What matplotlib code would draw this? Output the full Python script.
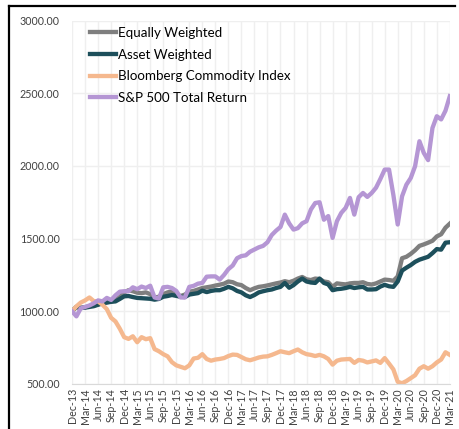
import numpy as np
import pandas as pd
import matplotlib
matplotlib.use("Agg")
import matplotlib.pyplot as plt
from matplotlib.lines import Line2D

plt.rcParams['font.family'] = ['Lato', 'DejaVu Sans']

# monthly index levels, Dec-13 .. Mar-21
dates = pd.date_range("2013-12-31", "2021-03-31", freq="ME")

equally_weighted = [
    1000, 1030, 1025, 1028, 1035, 1040, 1048, 1055, 1062, 1068,
    1075, 1100, 1130, 1145, 1138, 1128, 1125, 1130, 1118, 1095,
    1100, 1118, 1130, 1138, 1115, 1105, 1115, 1135, 1140, 1150,
    1160, 1165, 1170, 1177, 1183, 1190, 1205, 1200, 1186, 1180,
    1160, 1145, 1158, 1168, 1172, 1178, 1185, 1192, 1198, 1207,
    1200, 1210, 1225, 1236, 1220, 1215, 1225, 1222, 1205, 1200,
    1168, 1192, 1188, 1185, 1192, 1195, 1195, 1200, 1188, 1184,
    1192, 1205, 1218, 1215, 1210, 1240, 1365, 1375, 1395, 1420,
    1450, 1460, 1472, 1485, 1515, 1530, 1575, 1603,
]

asset_weighted = [
    1000, 1030, 1022, 1025, 1030, 1035, 1045, 1055, 1060, 1065,
    1068, 1085, 1103, 1105, 1098, 1092, 1090, 1088, 1086, 1080,
    1085, 1100, 1105, 1112, 1106, 1100, 1098, 1115, 1120, 1125,
    1142, 1132, 1140, 1145, 1145, 1155, 1168, 1158, 1140, 1130,
    1110, 1098, 1112, 1130, 1138, 1145, 1150, 1160, 1168, 1195,
    1162, 1180, 1205, 1225, 1205, 1198, 1195, 1225, 1195, 1185,
    1145, 1152, 1155, 1160, 1168, 1160, 1165, 1168, 1150, 1150,
    1152, 1170, 1182, 1172, 1168, 1205, 1280, 1300, 1318, 1340,
    1355, 1365, 1375, 1400, 1428, 1424, 1472, 1475,
]

bloomberg_commodity = [
    1000, 1034, 1060, 1075, 1095, 1070, 1068, 1045, 1015, 955,
    930, 880, 822, 810, 828, 787, 822, 808, 815, 740,
    725, 705, 690, 650, 628, 618, 608, 628, 675, 680,
    705, 672, 660, 668, 672, 678, 692, 702, 700, 685,
    670, 663, 672, 682, 688, 690, 700, 712, 725, 718,
    712, 725, 737, 718, 705, 700, 692, 700, 690, 672,
    633, 660, 668, 670, 672, 645, 665, 660, 648, 655,
    662, 645, 678, 640, 600, 515, 505, 520, 540, 560,
    605, 622, 605, 622, 648, 668, 718, 700,
]

sp500_total_return = [
    1000, 965, 1020, 1030, 1040, 1055, 1075, 1068, 1092, 1078,
    1110, 1135, 1138, 1138, 1165, 1152, 1170, 1160, 1176, 1095,
    1088, 1165, 1168, 1160, 1140, 1095, 1095, 1168, 1175, 1190,
    1195, 1238, 1240, 1240, 1218, 1250, 1290, 1315, 1365, 1380,
    1385, 1410, 1425, 1440, 1450, 1475, 1525, 1555, 1580, 1665,
    1605, 1562, 1572, 1605, 1620, 1700, 1745, 1750, 1630, 1655,
    1505, 1620, 1677, 1711, 1780, 1665, 1785, 1814, 1787, 1814,
    1850, 1910, 1975, 1975, 1800, 1597, 1791, 1871, 1917, 1998,
    2170, 2090, 2040, 2261, 2342, 2320, 2380, 2480,
]

series = [
    ("Equally Weighted", equally_weighted, "#7f7f7f"),
    ("Asset Weighted", asset_weighted, "#1d4f5b"),
    ("Bloomberg Commodity Index", bloomberg_commodity, "#f5b88e"),
    ("S&P 500 Total Return", sp500_total_return, "#b596d4"),
]

tick_labels = [d.strftime("%b-%y") for d in dates[::3]]

fig = plt.figure(figsize=(4.59, 4.29), dpi=100)
ax = fig.add_axes([0.157, 0.105, 0.823, 0.847])

x = np.arange(len(dates))
for name, vals, col in series:
    ax.plot(x, vals, color=col, lw=3.1, label=name, solid_joinstyle="round")

ax.set_xlim(0, len(dates) - 1)
ax.set_ylim(500, 3000)
ax.set_yticks(np.arange(500, 3001, 500))
ax.set_yticklabels([f"{v:.2f}" for v in np.arange(500, 3001, 500)])
ax.set_xticks(x[::3])
ax.set_xticklabels(tick_labels, rotation=90)
ax.tick_params(axis="both", length=0, labelsize=7.7, colors="#404040")
ax.tick_params(axis="y", pad=9)
ax.tick_params(axis="x", pad=3)

ax.grid(True, color="#efefef", lw=1)
ax.set_axisbelow(True)
for s in ["left", "right", "top"]:
    ax.spines[s].set_visible(False)
ax.spines["bottom"].set_color("#d9d9d9")

leg = ax.legend(loc="upper left", bbox_to_anchor=(0.022, 1.008), frameon=False,
                fontsize=9.6, handlelength=2.0, handletextpad=0.1,
                labelspacing=0.72, borderaxespad=0.3)
for line in leg.get_lines():
    line.set_linewidth(3.1)

# outer border (top and left)
fig.add_artist(Line2D([9 / 459, 9 / 459], [0, 1 - 6 / 429], color="black", lw=1.6,
                      transform=fig.transFigure))
fig.add_artist(Line2D([9 / 459, 455 / 459], [1 - 6 / 429, 1 - 6 / 429], color="black",
                      lw=1.6, transform=fig.transFigure))

fig.savefig("out.png", dpi=100)
